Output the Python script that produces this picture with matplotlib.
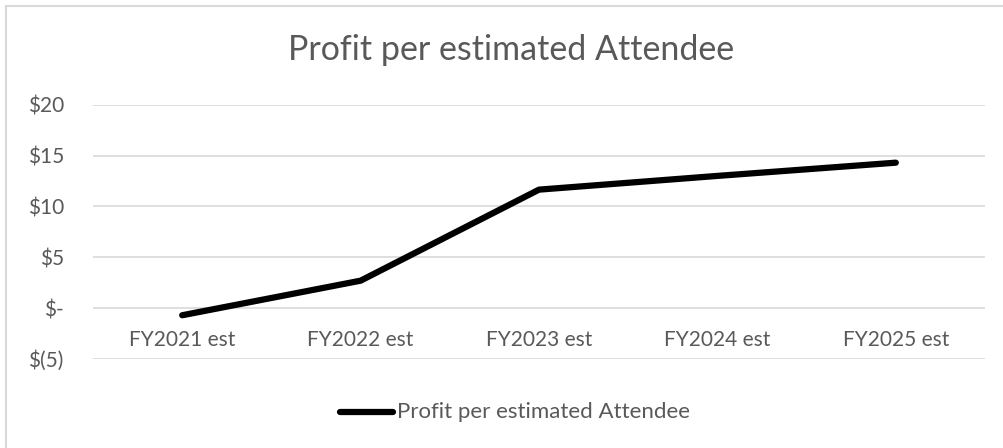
import matplotlib
matplotlib.use("Agg")
import matplotlib.pyplot as plt
from matplotlib.patches import Rectangle
from matplotlib.lines import Line2D

categories = ["FY2021 est", "FY2022 est", "FY2023 est", "FY2024 est", "FY2025 est"]
profit = [-0.7, 2.7, 11.65, 13.0, 14.3]
y_ticks = [-5, 0, 5, 10, 15, 20]
y_labels = ["$(5)", "$-", "$5", "$10", "$15", "$20"]
series_name = "Profit per estimated Attendee"
title = "Profit per estimated Attendee"

plt.rcParams["font.family"] = ["Lato", "DejaVu Sans"]
text_color = "#595959"
grid_color = "#D9D9D9"

fig = plt.figure(figsize=(10.04, 4.48), dpi=100)
ax = fig.add_axes([93 / 1004, 1 - 359 / 448, (985 - 93) / 1004, (359 - 104.7) / 448])

x = list(range(len(categories)))
ax.plot(x, profit, color="black", linewidth=4.5, solid_capstyle="round",
        solid_joinstyle="round", zorder=3)

ax.set_xlim(-0.5, len(categories) - 0.5)
ax.set_ylim(-5, 20)
ax.set_yticks(y_ticks)
ax.set_yticklabels(y_labels)
ax.set_xticks(x)
ax.set_xticklabels(categories)
ax.grid(axis="y", color=grid_color, linewidth=1.2)
ax.set_axisbelow(True)
for s in ax.spines.values():
    s.set_visible(False)
ax.spines["bottom"].set_position(("data", 0))
ax.tick_params(axis="both", length=0, labelcolor=text_color, labelsize=15)
ax.tick_params(axis="x", pad=16)
ax.tick_params(axis="y", pad=21)
for lbl in ax.get_yticklabels():
    lbl.set_horizontalalignment("right")

fig.text(511 / 1004, 1 - 50 / 448, title, ha="center", va="center",
         fontsize=24.5, color=text_color)

# legend entry below the plot
fig.add_artist(Line2D([340 / 1004, 393 / 1004], [1 - 412 / 448, 1 - 412 / 448],
                      color="black", linewidth=4.5, solid_capstyle="round"))
fig.text(397 / 1004, 1 - 412 / 448, series_name, ha="left", va="center",
         fontsize=16, color=text_color)

# chart border
fig.add_artist(Rectangle((6 / 1004, -0.1), 1.2, 1 - 6 / 448 + 0.1,
                         transform=fig.transFigure, fill=False,
                         edgecolor=grid_color, linewidth=1.5))

fig.savefig("out.png", dpi=100)
